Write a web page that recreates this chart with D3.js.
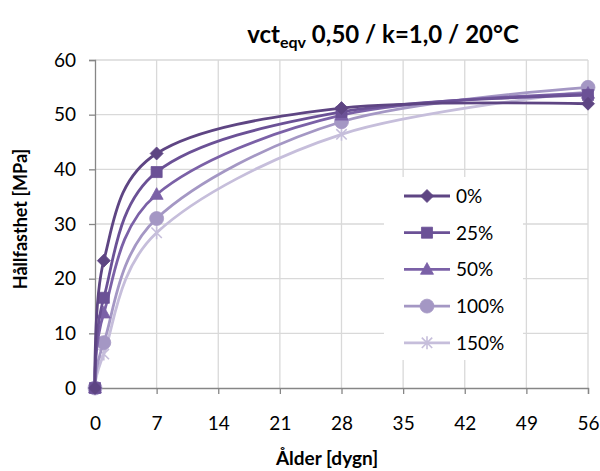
<!DOCTYPE html>
<html><head><meta charset="utf-8">
<script src="https://cdn.jsdelivr.net/npm/d3@7"></script>
<style>
body{margin:0;background:#fff;}
svg{display:block;font-family:Lato,"Open Sans",sans-serif;}
</style></head>
<body><svg id="c" width="600" height="471"></svg>
<script>
const days = [0, 1, 7, 28, 56];
const seriesNames = ["0%", "25%", "50%", "100%", "150%"];
const v0   = [0, 23.3, 42.9, 51.2, 52.0];
const v25  = [0, 16.5, 39.5, 50.5, 53.6];
const v50  = [0, 13.7, 35.4, 49.9, 53.9];
const v100 = [0, 8.3, 31.0, 48.7, 55.0];
const v150 = [0, 6.2, 28.4, 46.4, 54.2];
const xTicks = [0, 7, 14, 21, 28, 35, 42, 49, 56];
const yTicks = [0, 10, 20, 30, 40, 50, 60];
const colors = ["#5e4583", "#6b5196", "#7b61a7", "#a497c4", "#c6bedb"];
const markers = ["diamond", "square", "triangle", "circle", "star"];
const values = [v0, v25, v50, v100, v150];

const svg = d3.select("#c");
const x = d3.scaleLinear().domain([0, 56]).range([95, 588]);
const y = d3.scaleLinear().domain([0, 60]).range([388, 60]);

// gridlines
svg.append("g").selectAll("line.h").data(yTicks.filter(d => d > 0)).join("line")
  .attr("x1", x(0)).attr("x2", x(56)).attr("y1", d => y(d)).attr("y2", d => y(d))
  .attr("stroke", "#d9d9d9").attr("stroke-width", 1.3);
svg.append("g").selectAll("line.v").data(xTicks.filter(d => d > 0)).join("line")
  .attr("x1", d => x(d)).attr("x2", d => x(d)).attr("y1", y(0)).attr("y2", y(60))
  .attr("stroke", "#d9d9d9").attr("stroke-width", 1.3);

// axes
const xAxis = svg.append("g").attr("transform", `translate(0,${y(0)})`)
  .call(d3.axisBottom(x).tickValues(xTicks).tickSize(6).tickPadding(23));
const yAxis = svg.append("g").attr("transform", `translate(${x(0)},0)`)
  .call(d3.axisLeft(y).tickValues(yTicks).tickSize(6).tickPadding(13));
[xAxis, yAxis].forEach(a => {
  a.select(".domain").attr("stroke", "#868686").attr("stroke-width", 1.3);
  a.selectAll(".tick line").attr("stroke", "#868686").attr("stroke-width", 1.3);
  a.selectAll(".tick text").attr("font-family", "Lato, sans-serif").attr("font-size", 19).attr("fill", "#000");
});
xAxis.selectAll(".tick").filter(d => d === 0).select("line").remove();

function markerPath(type, size) {
  const s = size;
  if (type === "diamond") return `M0,${-s}L${s},0L0,${s}L${-s},0Z`;
  if (type === "square") return `M${-s*0.85},${-s*0.85}H${s*0.85}V${s*0.85}H${-s*0.85}Z`;
  if (type === "triangle") return `M0,${-s*1.05}L${s},${s*0.75}L${-s},${s*0.75}Z`;
  if (type === "circle") return d3.symbol(d3.symbolCircle, Math.PI * s * s * 1.15)();
  return `M${-s*0.8},${-s*0.8}L${s*0.8},${s*0.8}M${-s*0.8},${s*0.8}L${s*0.8},${-s*0.8}M0,${-s}V${s}`;
}
function drawMarker(g, type, color, cx, cy) {
  const p = g.append("path").attr("d", markerPath(type, 6.5))
    .attr("transform", `translate(${cx},${cy})`);
  if (type === "star") p.attr("fill", "none").attr("stroke", color).attr("stroke-width", 1.6);
  else p.attr("fill", color).attr("stroke", color).attr("stroke-width", 0.8);
}

const line = d3.line().x(d => x(d[0])).y(d => y(d[1])).curve(d3.curveCardinal.tension(0));

// draw series from last to first so darker is on top
const order = [4, 3, 2, 1, 0];
order.forEach(i => {
  const pts = days.map((d, j) => [d, values[i][j]]);
  const g = svg.append("g");
  g.append("path").attr("d", line(pts)).attr("fill", "none")
    .attr("stroke", colors[i]).attr("stroke-width", 2.8);
  pts.forEach(p => drawMarker(g, markers[i], colors[i], x(p[0]), y(p[1])));
});

// legend
const lg = svg.append("g");
lg.append("rect").attr("x", 384).attr("y", 177).attr("width", 139).attr("height", 183).attr("fill", "#fff");
seriesNames.forEach((n, i) => {
  const ly = 196 + i * 36.7;
  lg.append("line").attr("x1", 404).attr("x2", 450).attr("y1", ly).attr("y2", ly)
    .attr("stroke", colors[i]).attr("stroke-width", 2.8);
  drawMarker(lg, markers[i], colors[i], 427, ly);
  lg.append("text").attr("x", 456).attr("y", ly + 7).attr("font-size", 19).text(n);
});

// title
const t = svg.append("text").attr("x", 383).attr("y", 43).attr("text-anchor", "middle")
  .attr("font-size", 24).attr("font-weight", "bold");
t.append("tspan").text("vct");
t.append("tspan").attr("font-size", 16).attr("dy", 5).text("eqv");
t.append("tspan").attr("dy", -5).text(" 0,50 / k=1,0 / 20°C");

// axis titles
svg.append("text").attr("x", 327).attr("y", 465).attr("text-anchor", "middle")
  .attr("font-size", 19).attr("font-weight", "bold").text("Ålder [dygn]");
svg.append("text").attr("transform", "translate(21,219) rotate(-90)").attr("text-anchor", "middle")
  .attr("dy", "0.35em").attr("font-size", 18).attr("font-weight", "bold").text("Hållfasthet  [MPa]");
</script></body></html>
